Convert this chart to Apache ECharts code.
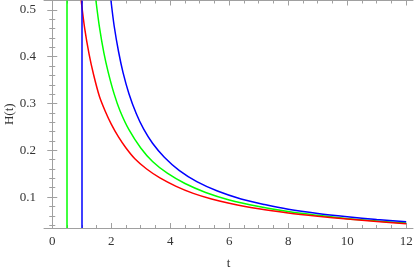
<!DOCTYPE html>
<html><head><meta charset="utf-8">
<script src="https://cdn.jsdelivr.net/npm/echarts@6/dist/echarts.min.js"></script>
<style>html,body{margin:0;padding:0;background:#fff}#c{width:415px;height:272px}</style>
</head><body><div id="c"></div>
<script>
// Data
const redT   = [0.98, 1.1, 1.25, 1.4, 1.6, 1.8, 2.0, 2.25, 2.5, 2.8, 3.2, 3.65, 4.2, 4.78, 5.4, 6.0, 7.0, 8.0, 9.0, 10.0, 11.0, 12.0];
const redH   = [0.52, 0.46, 0.405, 0.362, 0.315, 0.283, 0.256, 0.228, 0.205, 0.182, 0.160, 0.141, 0.123, 0.108, 0.096, 0.087, 0.075, 0.066, 0.059, 0.053, 0.048, 0.0432];
const greenT = [1.48, 1.6, 1.75, 1.9, 2.1, 2.3, 2.6, 3.0, 3.4, 3.9, 4.5, 5.2, 6.0, 7.0, 8.0, 9.0, 10.0, 11.0, 12.0];
const greenH = [0.52, 0.463, 0.408, 0.366, 0.320, 0.284, 0.244, 0.205, 0.176, 0.151, 0.129, 0.110, 0.094, 0.080, 0.069, 0.061, 0.054, 0.049, 0.0445];
const blueT  = [1.99, 2.1, 2.25, 2.4, 2.6, 2.85, 3.1, 3.4, 3.8, 4.3, 4.9, 5.6, 6.4, 7.2, 8.0, 9.0, 10.0, 11.0, 12.0];
const blueH  = [0.52, 0.465, 0.41, 0.366, 0.321, 0.278, 0.245, 0.215, 0.185, 0.157, 0.133, 0.113, 0.096, 0.084, 0.074, 0.065, 0.058, 0.052, 0.0472];
const asymptotes = [{t: 0.5, color: '#00ff00'}, {t: 1.0, color: '#0000ff'}];
const xTicks = [0, 2, 4, 6, 8, 10, 12];
const xMinor = [0.5, 1, 1.5, 2.5, 3, 3.5, 4.5, 5, 5.5, 6.5, 7, 7.5, 8.5, 9, 9.5, 10.5, 11, 11.5];
const yTicks = [0.1, 0.2, 0.3, 0.4, 0.5];
const yMinor = [0.04, 0.06, 0.08, 0.12, 0.14, 0.16, 0.18, 0.22, 0.24, 0.26, 0.28, 0.32, 0.34, 0.36, 0.38, 0.42, 0.44, 0.46, 0.48];

const XMIN = -0.28, XMAX = 12.23, YMIN = 0.034, YMAX = 0.52;
const frame = '#a0a0a0';
const font = 'Liberation Serif';

function xAx(pos, vals, len, labels, line) {
  return {
    type: 'value', position: pos, min: XMIN, max: XMAX, gridIndex: 0,
    axisLine: {show: line, lineStyle: {color: frame, width: 1}},
    axisTick: {show: true, inside: true, length: len, customValues: vals, lineStyle: {color: frame}},
    axisLabel: labels ? {show: true, customValues: vals, color: '#333', fontFamily: font, fontSize: 13, margin: 7} : {show: false},
    splitLine: {show: false}
  };
}
function yAx(pos, vals, len, labels, line) {
  return {
    type: 'value', position: pos, min: YMIN, max: YMAX, gridIndex: 0,
    axisLine: {show: line, lineStyle: {color: frame, width: 1}},
    axisTick: {show: true, inside: true, length: len, customValues: vals, lineStyle: {color: frame}},
    axisLabel: labels ? {show: true, customValues: vals, color: '#333', fontFamily: font, fontSize: 13, margin: 8,
      formatter: v => v.toFixed(1)} : {show: false},
    splitLine: {show: false}
  };
}
const xA = [xAx('bottom', xTicks, 5, true, true), xAx('bottom', xMinor, 3, false, false),
            xAx('top', xTicks, 5, false, true), xAx('top', xMinor, 3, false, false)];
xA[0].name = 't'; xA[0].nameLocation = 'middle'; xA[0].nameGap = 29; xA[0].nameMoveOverlap = false;
xA[0].nameTextStyle = {color: '#333', fontFamily: font, fontSize: 13};
const yA = [yAx('left', yTicks, 5, true, true), yAx('left', yMinor, 3, false, false),
            yAx('right', yTicks, 5, false, true), yAx('right', yMinor, 3, false, false)];
yA[0].name = 'H(t)'; yA[0].nameLocation = 'middle'; yA[0].nameGap = 28; yA[0].nameRotate = 90; yA[0].nameMoveOverlap = false;
yA[0].nameTextStyle = {color: '#333', fontFamily: font, fontSize: 13};

function curve(ts, hs, color, extra) {
  return Object.assign({
    type: 'line', xAxisIndex: 0, yAxisIndex: 0, showSymbol: false, symbol: 'none',
    smooth: 0.3, clip: true,
    data: ts.map((t, i) => [t, hs[i]]),
    lineStyle: {color: color, width: 1.5}, itemStyle: {color: color}
  }, extra || {});
}
const series = [
  curve(greenT, greenH, '#00ff00', {markLine: {silent: true, symbol: 'none', label: {show: false},
    data: [{xAxis: asymptotes[0].t}], lineStyle: {color: asymptotes[0].color, width: 1.5, type: 'solid'}}}),
  curve(redT, redH, '#ff0000'),
  curve(blueT, blueH, '#0000ff', {markLine: {silent: true, symbol: 'none', label: {show: false},
    data: [{xAxis: asymptotes[1].t}], lineStyle: {color: asymptotes[1].color, width: 1.5, type: 'solid'}}}),
];

const chart = echarts.init(document.getElementById('c'), null, {renderer: 'canvas'});
chart.setOption({
  animation: false,
  backgroundColor: '#fff',
  grid: {left: 44, right: 2, top: 0.5, bottom: 44, containLabel: false, outerBoundsMode: 'none'},
  xAxis: xA, yAxis: yA, series: series
});
</script></body></html>
